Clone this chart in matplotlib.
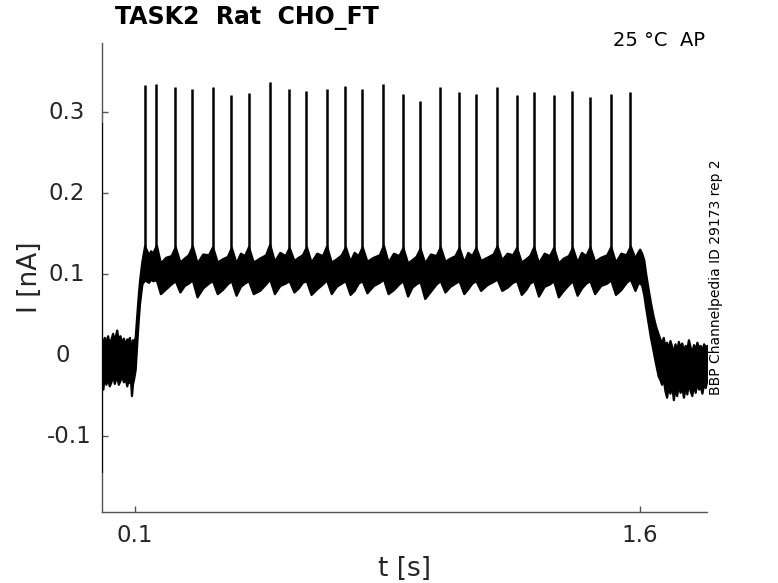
import numpy as np
import matplotlib
matplotlib.use("Agg")
import matplotlib.pyplot as plt
from matplotlib import transforms

# spike times [s] and peak currents [nA]
spike_t = [0.128, 0.163, 0.219, 0.270, 0.330, 0.386, 0.437, 0.500, 0.558,
           0.609, 0.669, 0.725, 0.775, 0.838, 0.896, 0.947, 1.007, 1.063,
           1.113, 1.176, 1.234, 1.285, 1.344, 1.400, 1.452, 1.514, 1.572]
spike_peak = [0.334, 0.335, 0.332, 0.329, 0.332, 0.321, 0.324, 0.338, 0.329,
              0.327, 0.329, 0.333, 0.329, 0.335, 0.323, 0.314, 0.332, 0.325,
              0.323, 0.332, 0.321, 0.325, 0.321, 0.327, 0.319, 0.323, 0.325]

# envelope of the overlapping repetitions (upper / lower edge of the band)
band_t = [0.000, 0.004, 0.008, 0.013, 0.018, 0.023, 0.028, 0.033, 0.038, 0.042,
          0.045, 0.050, 0.055, 0.060, 0.065, 0.070, 0.075, 0.079, 0.083, 0.086,
          0.089, 0.092, 0.095, 0.100, 0.104, 0.107, 0.110, 0.113, 0.117, 0.120,
          0.128, 0.140, 0.146, 0.152,
          0.163, 0.175, 0.191, 0.207,
          0.219, 0.233, 0.246, 0.258,
          0.270, 0.284, 0.301, 0.318,
          0.330, 0.344, 0.359, 0.374,
          0.386, 0.400, 0.413, 0.425,
          0.437, 0.451, 0.470, 0.488,
          0.500, 0.514, 0.530, 0.546,
          0.558, 0.572, 0.585, 0.597,
          0.609, 0.623, 0.640, 0.657,
          0.669, 0.683, 0.698, 0.713,
          0.725, 0.739, 0.751, 0.763,
          0.775, 0.789, 0.808, 0.826,
          0.838, 0.852, 0.868, 0.884,
          0.896, 0.910, 0.923, 0.935,
          0.947, 0.961, 0.978, 0.995,
          1.007, 1.021, 1.036, 1.051,
          1.063, 1.077, 1.089, 1.101,
          1.113, 1.127, 1.146, 1.164,
          1.176, 1.190, 1.206, 1.222,
          1.234, 1.248, 1.261, 1.273,
          1.285, 1.299, 1.316, 1.332,
          1.344, 1.358, 1.373, 1.388,
          1.400, 1.414, 1.427, 1.440,
          1.452, 1.466, 1.484, 1.502,
          1.514, 1.528, 1.544, 1.560,
          1.572, 1.586, 1.594, 1.600,
          1.606, 1.612, 1.618, 1.625, 1.632, 1.640, 1.647, 1.655, 1.660, 1.665,
          1.670, 1.675, 1.680, 1.685, 1.690, 1.695, 1.700, 1.705, 1.710, 1.715,
          1.720, 1.725, 1.730, 1.735, 1.740, 1.745, 1.750, 1.755, 1.760, 1.765,
          1.770, 1.775, 1.780, 1.785, 1.790, 1.795, 1.800]
band_hi = [0.020, 0.012, 0.022, 0.016, 0.024, 0.014, 0.020, 0.027, 0.018, 0.025,
           0.031, 0.019, 0.024, 0.015, 0.021, 0.013, 0.020, 0.017, 0.022, 0.012,
           0.010, 0.019, 0.016, 0.022, 0.045, 0.062, 0.078, 0.092, 0.106, 0.116,
           0.135, 0.124, 0.129, 0.126,
           0.136, 0.114, 0.121, 0.123,
           0.134, 0.115, 0.120, 0.124,
           0.135, 0.114, 0.125, 0.124,
           0.134, 0.115, 0.119, 0.122,
           0.133, 0.114, 0.126, 0.123,
           0.134, 0.115, 0.120, 0.124,
           0.137, 0.116, 0.127, 0.123,
           0.133, 0.117, 0.121, 0.124,
           0.134, 0.115, 0.126, 0.123,
           0.135, 0.115, 0.119, 0.124,
           0.134, 0.116, 0.127, 0.123,
           0.134, 0.116, 0.121, 0.124,
           0.136, 0.115, 0.126, 0.123,
           0.133, 0.114, 0.118, 0.122,
           0.132, 0.114, 0.125, 0.123,
           0.134, 0.116, 0.120, 0.123,
           0.133, 0.115, 0.127, 0.123,
           0.133, 0.117, 0.121, 0.125,
           0.135, 0.118, 0.126, 0.124,
           0.133, 0.115, 0.119, 0.123,
           0.134, 0.114, 0.126, 0.123,
           0.133, 0.114, 0.120, 0.123,
           0.133, 0.115, 0.127, 0.123,
           0.134, 0.116, 0.121, 0.124,
           0.134, 0.115, 0.126, 0.124,
           0.135, 0.120, 0.127, 0.131,
           0.126, 0.118, 0.100, 0.082, 0.065, 0.048, 0.036, 0.026, 0.020, 0.015,
           0.022, 0.010, 0.016, 0.008, 0.018, 0.011, 0.004, 0.014, 0.006, 0.017,
           0.009, 0.015, 0.005, 0.012, 0.008, 0.019, 0.010, 0.004, 0.013, 0.007,
           0.016, 0.009, 0.012, 0.005, 0.014, 0.010, 0.012]
band_lo = [-0.030, -0.042, -0.026, -0.036, -0.028, -0.038, -0.033, -0.024, -0.035, -0.029,
           -0.026, -0.036, -0.031, -0.025, -0.033, -0.028, -0.038, -0.030, -0.034, -0.029,
           -0.050, -0.036, -0.030, -0.018, 0.010, 0.030, 0.048, 0.064, 0.078, 0.088,
           0.093, 0.090, 0.094, 0.092,
           0.093, 0.076, 0.082, 0.088,
           0.092, 0.078, 0.086, 0.089,
           0.093, 0.072, 0.083, 0.089,
           0.092, 0.076, 0.081, 0.088,
           0.092, 0.074, 0.085, 0.089,
           0.092, 0.076, 0.080, 0.088,
           0.094, 0.076, 0.086, 0.089,
           0.092, 0.078, 0.083, 0.090,
           0.092, 0.075, 0.082, 0.088,
           0.093, 0.076, 0.085, 0.089,
           0.092, 0.075, 0.080, 0.089,
           0.092, 0.077, 0.086, 0.090,
           0.094, 0.076, 0.081, 0.088,
           0.092, 0.073, 0.084, 0.088,
           0.091, 0.070, 0.079, 0.088,
           0.092, 0.078, 0.085, 0.089,
           0.092, 0.076, 0.082, 0.089,
           0.092, 0.080, 0.087, 0.091,
           0.094, 0.080, 0.084, 0.090,
           0.092, 0.075, 0.081, 0.089,
           0.092, 0.073, 0.085, 0.088,
           0.092, 0.072, 0.080, 0.087,
           0.092, 0.074, 0.083, 0.089,
           0.092, 0.076, 0.086, 0.089,
           0.093, 0.075, 0.081, 0.090,
           0.094, 0.080, 0.088, 0.090,
           0.086, 0.075, 0.058, 0.040, 0.022, 0.005, -0.010, -0.026, -0.030, -0.036,
           -0.028, -0.044, -0.052, -0.038, -0.047, -0.035, -0.055, -0.041, -0.050, -0.036,
           -0.046, -0.038, -0.052, -0.040, -0.048, -0.034, -0.044, -0.050, -0.036, -0.046,
           -0.032, -0.042, -0.038, -0.047, -0.035, -0.040, -0.030]

# capacitive transient at the start of the sweep
transient_t = 0.0015
transient_range = (-0.146, 0.287)

xticks = [0.1, 1.6]
yticks = [-0.1, 0, 0.1, 0.2, 0.3]
ytick_labels = ["-0.1", "0", "0.1", "0.2", "0.3"]
ytick_label_x = [69.5, 62.5, 66.5, 66.5, 66.5]  # pixel centres

spine_col = "#555555"
text_col = "#262626"

fig = plt.figure(figsize=(7.78, 5.83), dpi=100)
ax = fig.add_axes([0.1305, 0.1223, 0.7782, 0.8037])

ax.fill_between(band_t, band_lo, band_hi, color="black", lw=1.6,
                edgecolor="black", zorder=3)
ax.vlines(spike_t, 0.118, spike_peak, color="black", lw=1.8, zorder=3)
ax.vlines(transient_t, transient_range[0], transient_range[1], color="black",
          lw=1.5, zorder=3)

ax.set_xlim(0, 1.8)
ax.set_ylim(-0.1935, 0.3856)
ax.set_xticks(xticks)
ax.set_xticklabels([str(v) for v in xticks])
ax.set_yticks(yticks)
ax.set_yticklabels([])

# y tick labels placed like the original (not a common right edge)
trans = transforms.blended_transform_factory(fig.transFigure, ax.transData)
for lab, xpix, yv in zip(ytick_labels, ytick_label_x, yticks):
    ax.text(xpix / 778, yv, lab, transform=trans, ha="center", va="center",
            fontsize=16.5, color=text_col)

for side in ["top", "right"]:
    ax.spines[side].set_visible(False)
for side in ["left", "bottom"]:
    ax.spines[side].set_color(spine_col)
    ax.spines[side].set_linewidth(1.0)
ax.tick_params(direction="in", length=4.5, width=1, color=spine_col,
               labelsize=16.5, labelcolor=text_col, pad=9)

ax.set_xlabel("t [s]", fontsize=19, color=text_col)
ax.set_ylabel("I [nA]", fontsize=19, color=text_col)
ax.xaxis.set_label_coords(0.5, -0.094)
ax.yaxis.set_label_coords(-0.096, 0.5)

fig.text(115 / 778, 1 - 18 / 583, "TASK2  Rat  CHO_FT", fontsize=17,
         fontweight="bold", ha="left", va="center", color="black")
fig.text(705 / 778, 1 - 40 / 583, "25 °C  AP", fontsize=14,
         ha="right", va="center", color="black")
fig.text(716 / 778, 1 - 277 / 583, "BBP Channelpedia ID 29173 rep 2", fontsize=10,
         rotation=90, ha="center", va="center", color="black")

fig.savefig("out.png", dpi=100)
